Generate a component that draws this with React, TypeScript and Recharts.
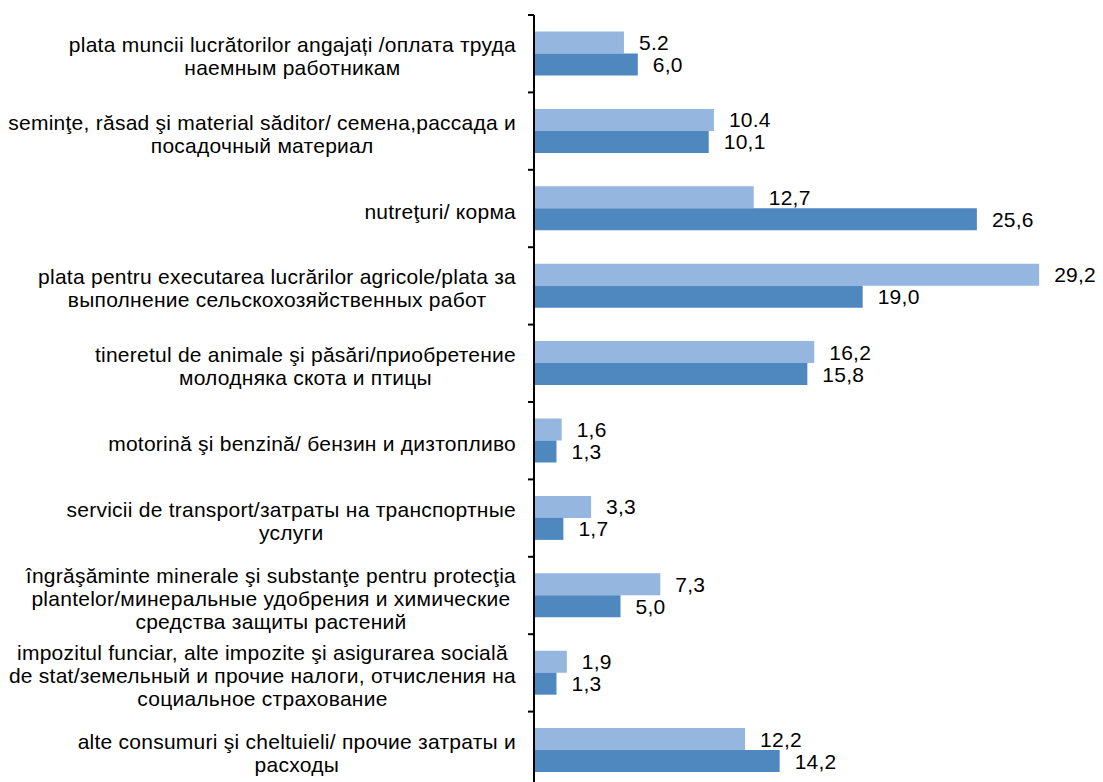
import { BarChart, Bar, XAxis, YAxis, LabelList } from "recharts";

const categories: string[][] = [
  ["plata muncii lucrătorilor angajați /оплата труда", "наемным работникам"],
  ["seminţe, răsad şi material săditor/ семена,рассада и", "посадочный материал"],
  ["nutreţuri/ корма"],
  ["plata pentru executarea lucrărilor agricole/plata за", "выполнение сельскохозяйственных работ"],
  ["tineretul de animale şi păsări/приобретение", "молодняка скота и птицы"],
  ["motorină şi benzină/ бензин и дизтопливо"],
  ["servicii de transport/затраты на транспортные", "услуги"],
  [
    "îngrăşăminte minerale şi substanţe pentru protecţia",
    "plantelor/минеральные удобрения и химические",
    "средства защиты растений",
  ],
  [
    "impozitul funciar, alte impozite şi asigurarea socială",
    "de stat/земельный и прочие налоги, отчисления на",
    "социальное страхование",
  ],
  ["alte consumuri şi cheltuieli/ прочие затраты и", "расходы"],
];

const lightValues = [5.2, 10.4, 12.7, 29.2, 16.2, 1.6, 3.3, 7.3, 1.9, 12.2];
const darkValues = [6.0, 10.1, 25.6, 19.0, 15.8, 1.3, 1.7, 5.0, 1.3, 14.2];

const lightLabels = ["5.2", "10.4", "12,7", "29,2", "16,2", "1,6", "3,3", "7,3", "1,9", "12,2"];
const darkLabels = ["6,0", "10,1", "25,6", "19,0", "15,8", "1,3", "1,7", "5,0", "1,3", "14,2"];

const FONT = "'Liberation Sans', Arial, sans-serif";
const FONT_SIZE = 21;
const SPACING = 0.25;
const LINE_H = 23;

const data = categories.map((lines, i) => ({
  name: lines.join("\n"),
  light: lightValues[i],
  dark: darkValues[i],
  lightLabel: lightLabels[i],
  darkLabel: darkLabels[i],
}));

let ctx: CanvasRenderingContext2D | null = null;
function textWidth(s: string): number {
  if (!ctx) {
    ctx = document.createElement("canvas").getContext("2d");
    if (ctx) ctx.font = `${FONT_SIZE}px ${FONT}`;
  }
  const w = ctx ? ctx.measureText(s).width : s.length * 9;
  return w + s.length * SPACING;
}

function CategoryTick(props: any) {
  const { x, y, payload } = props;
  const lines: string[] = String(payload.value).split("\n");
  const half = payload.offset || 38.7;
  const right = x - 18;
  const blockW = Math.max(...lines.map(textWidth));
  const cx = right - blockW / 2;
  const y0 = y + 2 - ((lines.length - 1) * LINE_H) / 2;
  return (
    <g>
      <line x1={x - 6} x2={x} y1={y - half} y2={y - half} stroke="#000" strokeWidth={2} />
      <text
        x={cx}
        y={y0}
        textAnchor="middle"
        dominantBaseline="central"
        fontFamily={FONT}
        fontSize={FONT_SIZE}
        letterSpacing={SPACING}
        fill="#000"
      >
        {lines.map((l, i) => (
          <tspan key={i} x={cx} y={y0 + i * LINE_H}>
            {l}
          </tspan>
        ))}
      </text>
    </g>
  );
}

export default function App() {
  return (
    <div
      style={{
        position: "absolute",
        left: 0,
        top: 0,
        width: 1103,
        height: 782,
        overflow: "hidden",
        background: "#fff",
      }}
    >
      <BarChart
        width={1103}
        height={789}
        data={data}
        layout="vertical"
        margin={{ top: 15, right: 50, bottom: 0, left: 0 }}
        barCategoryGap={16.5}
        barGap={0}
      >
        <XAxis type="number" domain={[0, 30]} hide />
        <YAxis
          type="category"
          dataKey="name"
          width={534}
          axisLine={{ stroke: "#000", strokeWidth: 2 }}
          tickLine={false}
          tickSize={0}
          tickMargin={0}
          interval={0}
          tick={<CategoryTick />}
        />
        <Bar dataKey="light" fill="#95B6DE" isAnimationActive={false}>
          <LabelList
            dataKey="lightLabel"
            position="right"
            offset={15}
            fill="#000"
            fontSize={FONT_SIZE}
            letterSpacing={SPACING}
            fontFamily={FONT}
          />
        </Bar>
        <Bar dataKey="dark" fill="#4F88BE" isAnimationActive={false}>
          <LabelList
            dataKey="darkLabel"
            position="right"
            offset={15}
            fill="#000"
            fontSize={FONT_SIZE}
            letterSpacing={SPACING}
            fontFamily={FONT}
          />
        </Bar>
      </BarChart>
    </div>
  );
}
